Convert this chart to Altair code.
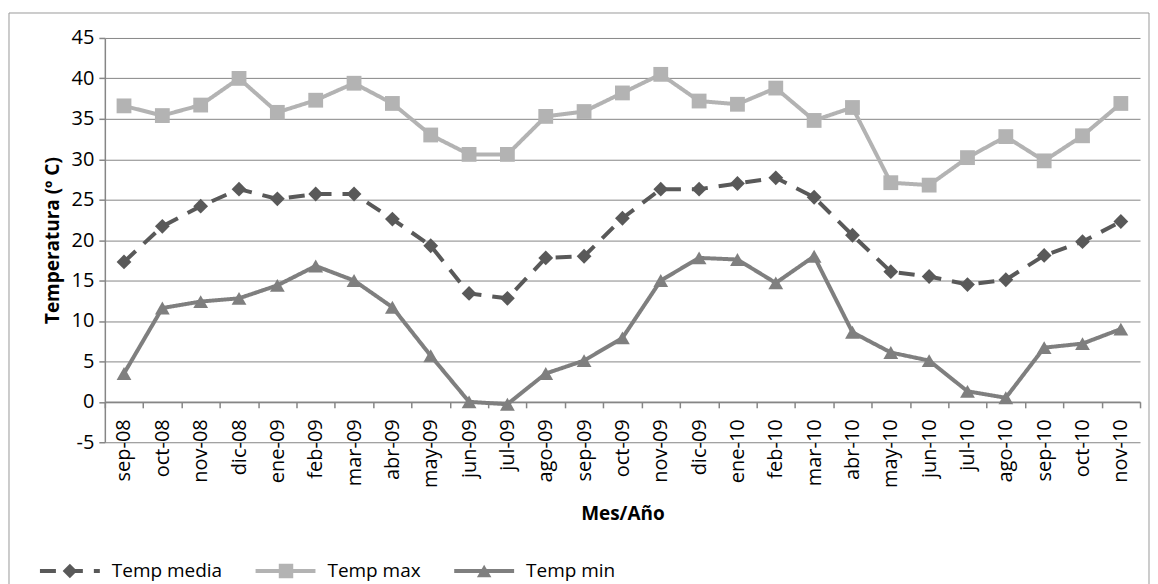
import altair as alt
import pandas as pd

meses = ["sep-08", "oct-08", "nov-08", "dic-08", "ene-09", "feb-09", "mar-09", "abr-09",
         "may-09", "jun-09", "jul-09", "ago-09", "sep-09", "oct-09", "nov-09", "dic-09",
         "ene-10", "feb-10", "mar-10", "abr-10", "may-10", "jun-10", "jul-10", "ago-10",
         "sep-10", "oct-10", "nov-10"]

temp_media = [17.3, 21.7, 24.2, 26.3, 25.1, 25.7, 25.7, 22.6, 19.3, 13.4, 12.8, 17.8, 18.0,
              22.7, 26.3, 26.3, 27.0, 27.7, 25.3, 20.6, 16.1, 15.5, 14.5, 15.1, 18.1, 19.8, 22.3]
temp_max = [36.6, 35.4, 36.7, 40.0, 35.8, 37.3, 39.4, 36.9, 33.0, 30.6, 30.6, 35.3, 35.9,
            38.2, 40.5, 37.2, 36.8, 38.8, 34.8, 36.4, 27.1, 26.8, 30.2, 32.8, 29.8, 32.9, 36.9]
temp_min = [3.5, 11.6, 12.4, 12.8, 14.4, 16.8, 15.0, 11.7, 5.7, 0.0, -0.3, 3.5, 5.1,
            7.9, 15.0, 17.8, 17.6, 14.7, 18.0, 8.6, 6.1, 5.1, 1.3, 0.5, 6.7, 7.2, 9.0]

series = ["Temp media", "Temp max", "Temp min"]
colores = ["#595959", "#b3b3b3", "#7f7f7f"]
marcadores = ["diamond", "square", "triangle-up"]
guiones = [[16, 11], [1, 0], [1, 0]]
y_ticks = list(range(-5, 50, 5))

rows = []
for nombre, valores in zip(series, [temp_media, temp_max, temp_min]):
    for m, v in zip(meses, valores):
        rows.append({"Mes": m, "Serie": nombre, "Temp": v})
df = pd.DataFrame(rows)

FONT = "Open Sans"
GRID = "#868686"

x_enc = alt.X(
    "Mes:N", sort=meses, bandPosition=0.5,
    scale=alt.Scale(type="band", paddingInner=0, paddingOuter=0),
    axis=alt.Axis(title="Mes/Año", labelAngle=270, tickBand="extent", offset=-40.5,
                  tickSize=6, labelPadding=11, grid=False, domainColor=GRID,
                  domainWidth=1.5, tickColor=GRID, tickWidth=1.5, titlePadding=17),
)
y_enc = alt.Y(
    "Temp:Q", scale=alt.Scale(domain=[-5, 45], nice=False, zero=False),
    axis=alt.Axis(title="Temperatura (º C)", values=y_ticks, grid=True, gridColor=GRID,
                  gridWidth=1, domainColor=GRID, domainWidth=1.5, tickColor=GRID,
                  tickWidth=1.5, tickSize=6, labelPadding=5, titlePadding=9,
                  labelExpr="'' + datum.value"),
)

LEG_X = -67
LEG_Y = 525
COL_PAD = 31
# legend A: the line samples (colour + dash)
leg_lines = alt.Legend(
    title=None, orient="none", legendX=LEG_X, legendY=LEG_Y, direction="horizontal",
    symbolType="stroke", symbolSize=3600, symbolStrokeWidth=4, clipHeight=18,
    labelFont=FONT, labelFontSize=19, labelColor="#000000", labelOffset=10,
    columnPadding=COL_PAD,
)
# legend B: the markers, drawn over the centre of each line sample (labels hidden)
leg_marks = alt.Legend(
    title=None, orient="none", legendX=LEG_X + 22.5, legendY=LEG_Y, direction="horizontal",
    symbolSize=210, symbolStrokeWidth=0, clipHeight=18,
    labelFont=FONT, labelFontSize=19, labelOpacity=0, labelOffset=32.5,
    labelExpr="trim(datum.label)", columnPadding=COL_PAD + 22.5,
)

base = alt.Chart(df)

lines = base.mark_line(strokeWidth=4).encode(
    x=x_enc, y=y_enc,
    color=alt.Color("Serie:N", scale=alt.Scale(domain=series, range=colores), legend=leg_lines),
    strokeDash=alt.StrokeDash("Serie:N", scale=alt.Scale(domain=series, range=guiones), legend=leg_lines),
)

# marker legend keys use a distinct (space-suffixed) domain so it stays separate from legend A
marca_dom = [s + " " for s in series]
points = base.transform_calculate(Marca="datum.Serie + ' '").mark_point(
    filled=True, opacity=1, strokeWidth=0, size=220
).encode(
    x=x_enc, y=y_enc,
    fill=alt.Fill("Marca:N", scale=alt.Scale(domain=marca_dom, range=colores), legend=leg_marks),
    shape=alt.Shape("Marca:N", scale=alt.Scale(domain=marca_dom, range=marcadores), legend=leg_marks),
)

frame = alt.Chart(pd.DataFrame({"k": [0]})).mark_rect(fill=None, stroke="#9a9a9a", strokeWidth=1).encode(
    x=alt.value(-96), x2=alt.value(1046), y=alt.value(-25), y2=alt.value(553)
)

chart = alt.layer(frame, lines, points).properties(
    width=1037, height=405, padding={"top": 3.5, "left": 0, "right": 0, "bottom": 0},
    background="white",
).configure_view(
    stroke=None
).configure_axis(
    labelFont=FONT, labelFontSize=20, labelColor="#000000",
    titleFont=FONT, titleFontSize=19, titleFontWeight="bold", titleColor="#000000",
)

chart.save("out.html", embed_options={"renderer": "svg", "actions": False})
